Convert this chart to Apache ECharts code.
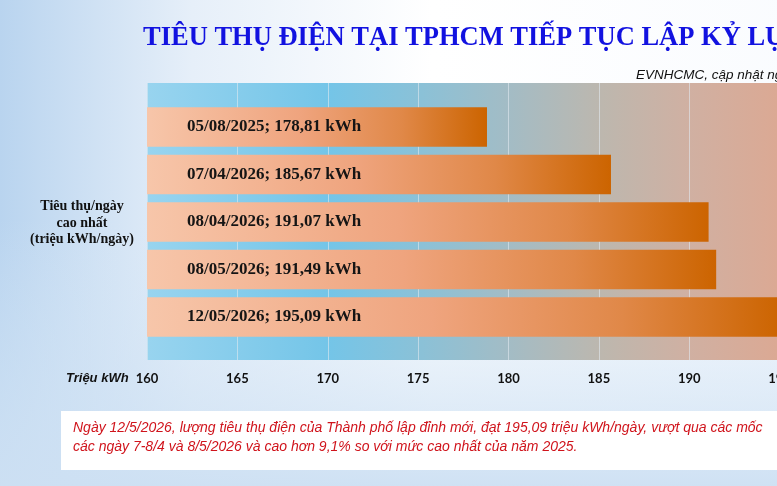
<!DOCTYPE html>
<html><head><meta charset="utf-8">
<script src="https://cdn.jsdelivr.net/npm/echarts@6/dist/echarts.min.js"></script>
<style>html,body{margin:0;padding:0;overflow:hidden;width:777px;height:486px;background:#fff}#c{width:960px;height:486px;}</style>
</head><body><div id="c"></div>
<script>
const titleText = 'TIÊU THỤ ĐIỆN TẠI TPHCM TIẾP TỤC LẬP KỶ LỤC';
const sourceText = 'EVNHCMC, cập nhật ngày 12/5/2026';
const dates = ['05/08/2025', '07/04/2026', '08/04/2026', '08/05/2026', '12/05/2026'];
const values = [178.81, 185.67, 191.07, 191.49, 195.09];
const xMin = 160, xMax = 200, xStep = 5;
const yAxisTitle = ['Tiêu thụ/ngày', 'cao nhất', '(triệu kWh/ngày)'];
const xAxisTitle = 'Triệu kWh';
const noteLines = [
  'Ngày 12/5/2026, lượng tiêu thụ điện của Thành phố lập đỉnh mới, đạt 195,09 triệu kWh/ngày, vượt qua các mốc',
  'các ngày 7-8/4 và 8/5/2026 và cao hơn 9,1% so với mức cao nhất của năm 2025.'
];

const chart = echarts.init(document.getElementById('c'), null, {renderer: 'canvas'});
const L = echarts.graphic.LinearGradient;
const fmt = v => v.toFixed(2).replace('.', ',');

chart.setOption({
  animation: false,
  graphic: [
    {type: 'rect', z: -20, shape: {x: 0, y: 0, width: 960, height: 486},
     style: {fill: new L(0, 0, 1, 0, [
       {offset: 0, color: '#b9d4ef'}, {offset: 0.2, color: '#e6eff9'},
       {offset: 0.45, color: '#ffffff'}, {offset: 1, color: '#f7fafe'}])}},
    {type: 'rect', z: -19, shape: {x: 0, y: 0, width: 960, height: 486},
     style: {fill: new L(0, 0, 0, 1, [
       {offset: 0, color: 'rgba(215,231,246,0)'}, {offset: 0.45, color: 'rgba(215,231,246,0)'},
       {offset: 1, color: 'rgba(205,224,243,0.95)'}])}},
    {type: 'rect', z: -15, shape: {x: 147, y: 83, width: 723, height: 277},
     style: {fill: new L(0, 0, 1, 0, [
       {offset: 0, color: '#98d4ef'}, {offset: 0.25, color: '#74c5e8'},
       {offset: 0.38, color: '#8bc1d7'}, {offset: 0.5, color: '#a3bcc5'},
       {offset: 0.63, color: '#bdb7ae'}, {offset: 0.75, color: '#d0b0a2'},
       {offset: 0.87, color: '#dba994'}, {offset: 1, color: '#e0a88f'}])}},
    {type: 'rect', z: -15, shape: {x: 61, y: 411, width: 900, height: 59}, style: {fill: '#ffffff'}},
    {type: 'text', z: 50, x: 143, y: 38, style: {text: titleText, font: 'bold 26.5px "Liberation Serif"', fill: '#1212e0', textVerticalAlign: 'middle'}},
    {type: 'text', z: 50, x: 636, y: 75, style: {text: sourceText, font: 'italic 13.5px "Liberation Sans"', fill: '#111', textVerticalAlign: 'middle'}},
    {type: 'text', z: 50, x: 82, y: 223, style: {text: yAxisTitle.join('\n'), font: 'bold 14px "Liberation Serif"', lineHeight: 16.7, fill: '#111', align: 'center', verticalAlign: 'middle'}},
    {type: 'text', z: 50, x: 66, y: 378, style: {text: xAxisTitle, font: 'italic bold 13px "Liberation Sans"', fill: '#111', textVerticalAlign: 'middle'}},
    {type: 'text', z: 50, x: 73, y: 437.5, style: {text: noteLines.join('\n'), font: 'italic 14px "Liberation Sans"', lineHeight: 18.7, fill: '#d0141c', verticalAlign: 'middle'}}
  ],
  grid: [
    {left: 147, right: 90, top: 83, bottom: 126},
    {left: 147, right: 90, top: 103.3, bottom: 145.2}
  ],
  xAxis: [
    {gridIndex: 0, type: 'value', min: xMin, max: xMax, interval: xStep,
     axisLine: {show: false}, axisTick: {show: false},
     splitLine: {show: true, lineStyle: {color: 'rgba(225,234,240,0.6)', width: 1}},
     axisLabel: {margin: 12, color: '#111', fontFamily: 'Lato', fontWeight: 'bold', fontSize: 13}},
    {gridIndex: 1, type: 'value', min: xMin, max: xMax, interval: xStep, show: false}
  ],
  yAxis: [
    {gridIndex: 0, type: 'category', data: dates, show: false},
    {gridIndex: 1, type: 'category', data: dates, inverse: true, show: false}
  ],
  series: [{
    type: 'bar', xAxisIndex: 1, yAxisIndex: 1, barWidth: 39.5,
    data: values,
    itemStyle: {
      color: new L(0, 0, 1, 0, [
        {offset: 0, color: '#f7c6aa'}, {offset: 0.45, color: '#efa47e'},
        {offset: 0.75, color: '#e08848'}, {offset: 1, color: '#cc6400'}]),
      borderWidth: 0
    },
    label: {show: true, position: 'insideLeft', distance: 40,
      formatter: p => dates[p.dataIndex] + '; ' + fmt(values[p.dataIndex]) + ' kWh',
      fontFamily: 'Liberation Serif', fontWeight: 'bold', fontSize: 17, color: '#151515'}
  }]
});
</script></body></html>
